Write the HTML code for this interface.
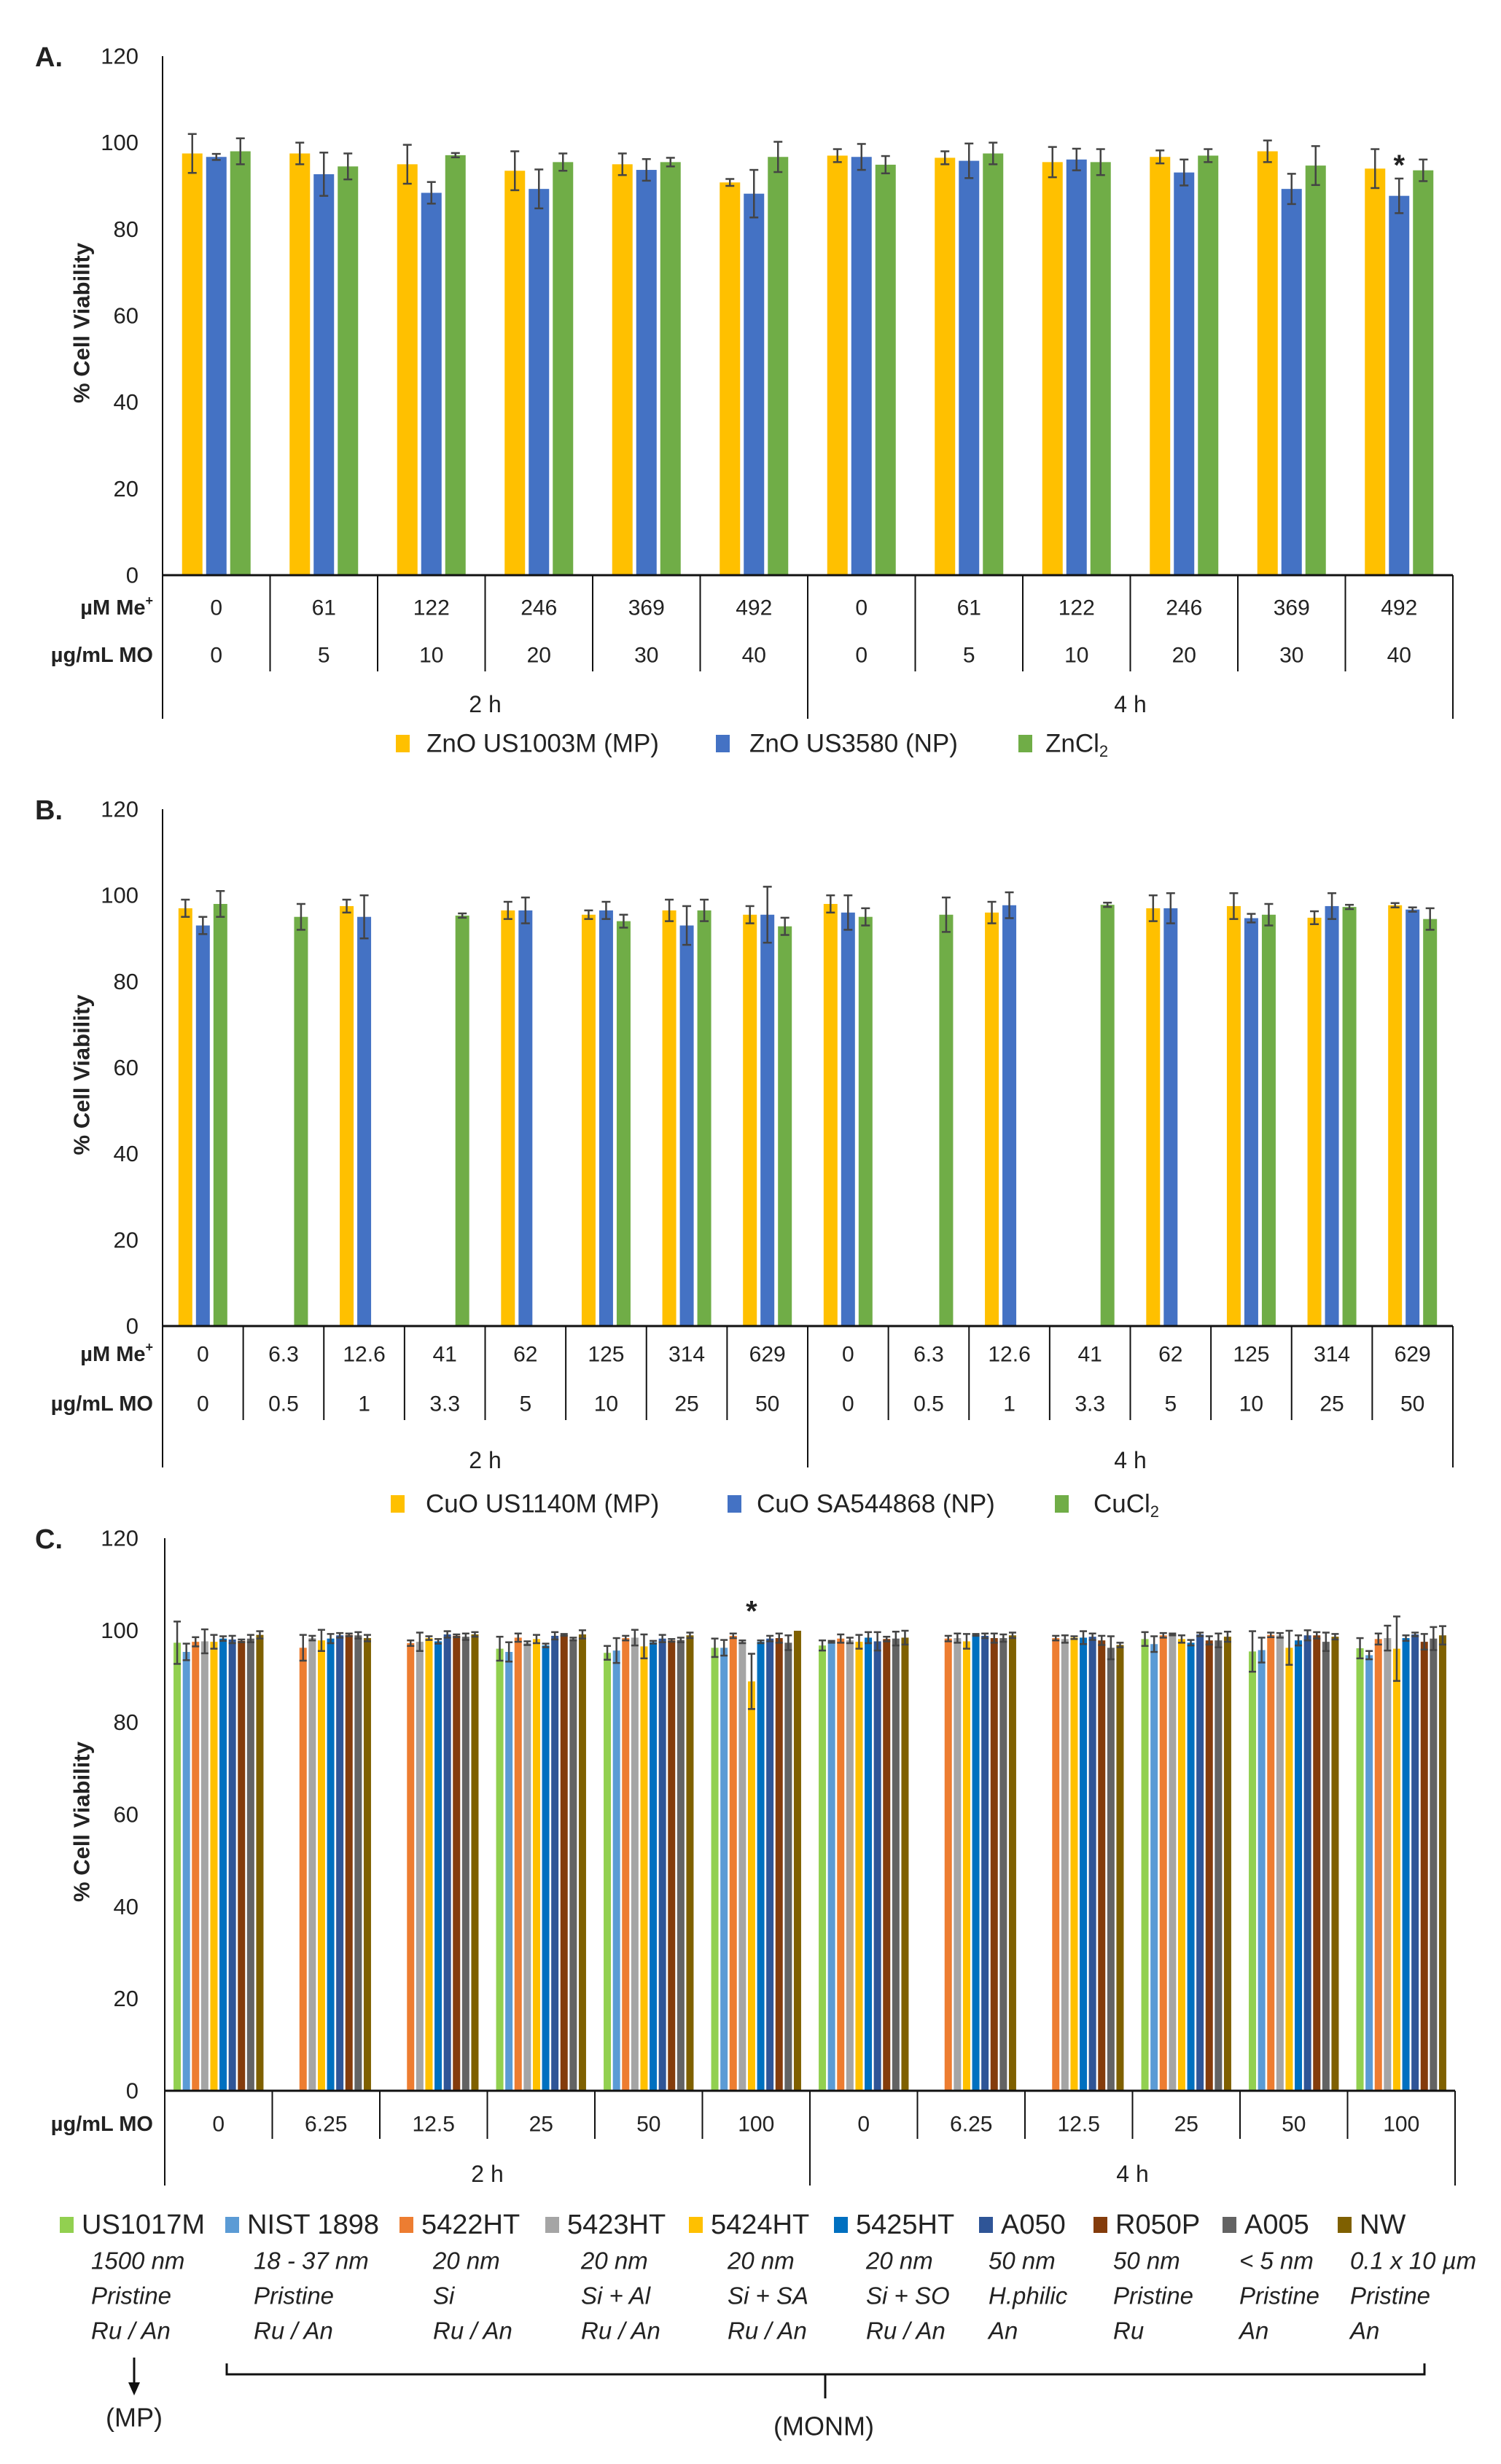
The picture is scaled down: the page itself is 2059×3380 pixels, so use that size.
<!DOCTYPE html>
<html><head><meta charset="utf-8">
<style>
html,body{margin:0;padding:0;background:#fff;}
svg{display:block;}
text{font-family:"Liberation Sans Narrow","Liberation Sans",sans-serif;fill:#222;}
</style></head>
<body>
<svg id="fig" width="2059" height="3380" viewBox="0 0 2059 3380" xmlns="http://www.w3.org/2000/svg"></svg>
<script>
// ---------- Chart A data ----------
const aMeConc = ["0","61","122","246","369","492","0","61","122","246","369","492"];
const aMoConc = ["0","5","10","20","30","40","0","5","10","20","30","40"];
const aSeriesNames = ["ZnO US1003M (MP)","ZnO US3580 (NP)","ZnCl"];
const aYellow = [97.5,97.5,95,93.5,95,90.8,97,96.5,95.5,96.7,98,94];
const aYellowErr = [4.5,2.5,4.5,4.5,2.5,0.8,1.5,1.5,3.5,1.5,2.5,4.5];
const aBlue = [96.7,92.7,88.4,89.3,93.7,88.2,96.7,95.8,96.1,93.1,89.3,87.7];
const aBlueErr = [0.7,5,2.5,4.5,2.5,5.5,3,4,2.5,3,3.5,4];
const aGreen = [98,94.5,97.1,95.5,95.5,96.7,94.9,97.5,95.5,97,94.7,93.6];
const aGreenErr = [3,3,0.5,2,1,3.5,2,2.5,3,1.5,4.5,2.5];

// ---------- Chart B data ----------
const bMeConc = ["0","6.3","12.6","41","62","125","314","629","0","6.3","12.6","41","62","125","314","629"];
const bMoConc = ["0","0.5","1","3.3","5","10","25","50","0","0.5","1","3.3","5","10","25","50"];
const bSeriesNames = ["CuO US1140M (MP)","CuO SA544868 (NP)","CuCl"];
const bYellow = [97,null,97.5,null,96.5,95.5,96.5,95.5,98,null,96,null,97,97.5,94.8,97.7];
const bYellowErr = [2,0,1.5,0,2,1,2.5,2,2,0,2.5,0,3,3,1.5,0.5];
const bBlue = [93,null,95,null,96.5,96.5,93,95.5,96,null,97.7,null,97,94.7,97.5,96.7];
const bBlueErr = [2,0,5,0,3,2,4.5,6.5,4,0,3,0,3.5,1,3,0.5];
const bGreen = [98,95,null,95.3,null,94,96.5,92.8,95,95.5,null,97.8,null,95.5,97.3,94.5];
const bGreenErr = [3,3,0,0.5,0,1.5,2.5,2,2,4,0,0.5,0,2.5,0.5,2.5];

// ---------- Chart C data ----------
const cMoConc = ["0","6.25","12.5","25","50","100","0","6.25","12.5","25","50","100"];
const cNames = ["US1017M","NIST 1898","5422HT","5423HT","5424HT","5425HT","A050","R050P","A005","NW"];
const cSizes = ["1500 nm","18 - 37 nm","20 nm","20 nm","20 nm","20 nm","50 nm","50 nm","< 5 nm","0.1 x 10 µm"];
const cCoat = ["Pristine","Pristine","Si","Si + Al","Si + SA","Si + SO","H.philic","Pristine","Pristine","Pristine"];
const cPhase = ["Ru / An","Ru / An","Ru / An","Ru / An","Ru / An","Ru / An","An","Ru","An","An"];
const cUS1017M = [97.3,null,null,96,95.1,96.2,96.7,null,null,98.1,95.4,96.1];
const cUS1017MErr = [4.6,0,0,2.6,1.5,2,1.1,0,0,1.5,4.4,2.2];
const cNIST = [95.3,null,null,95.3,95.6,96.2,97.5,null,null,97,95.7,94.6];
const cNISTErr = [1.8,0,0,2.1,2.7,1.7,0.2,0,0,1.7,2.7,0.9];
const c5422 = [97.5,96.2,97.2,98.4,98.3,98.8,98.2,98.2,98.3,98.9,99,98.1];
const c5422Err = [1,2.8,0.6,0.9,0.5,0.5,0.9,0.6,0.5,0.5,0.5,1.2];
const c5423 = [97.6,98.3,97.5,97.2,98.4,97.5,97.8,98.3,98.1,99.1,98.9,98.3];
const c5423Err = [2.6,0.5,2,0.4,1.7,0.3,0.6,1,0.8,0.2,0.5,2.7];
const c5424 = [97.5,97.8,98.3,98.1,96.5,88.9,97.5,97.6,98.4,98.1,96.2,96];
const c5424Err = [1.5,2.3,0.4,0.9,2.6,6,1.5,1.6,0.3,0.8,3.7,7];
const c5425 = [98.2,98.2,97.6,96.7,97.4,97.5,98.4,99,98.4,97.3,97.8,98.3];
const c5425Err = [0.5,1,0.5,0.4,0.3,0.3,1.2,0.2,1.4,0.6,1.1,0.6];
const cA050 = [98,98.9,99.1,98.8,98.2,98.2,97.6,98.8,98.6,99.1,98.9,99.1];
const cA050Err = [0.8,0.5,0.7,0.8,0.8,0.6,2,0.5,0.7,0.4,1.1,0.4];
const cR050P = [97.7,99,98.8,99,97.8,98.3,98.1,98.3,97.8,97.8,98.9,97.5];
const cR050PErr = [0.3,0.3,0.3,0.2,0.3,1,0.5,1,1,0.9,0.7,1.7];
const cA005 = [98.2,98.9,98.6,98.1,97.9,97.3,98.2,98.3,96.2,97.8,97.5,98.2];
const cA005Err = [0.8,0.7,0.7,0.3,0.5,1.6,1.5,0.8,2.5,1.5,2,2.5];
const cNW = [99,98.3,99.1,99.1,98.9,99.9,98.4,98.9,96.8,98.6,98.6,98.9];
const cNWErr = [0.8,0.7,0.5,0.9,0.6,0,1.5,0.6,0.5,1.1,0.6,2];

const yTicks = [0,20,40,60,80,100,120];

const NS = "http://www.w3.org/2000/svg";
const fig = document.getElementById('fig');
function mk(tag, attrs, parent, txt){
  const e = document.createElementNS(NS, tag);
  for (const k in attrs) e.setAttribute(k, attrs[k]);
  if (txt !== undefined) e.textContent = txt;
  (parent || fig).appendChild(e);
  return e;
}

function drawChart(cfg){
  const g = mk('g', {});
  
  
  const x0 = cfg.x0, x1 = cfg.x1, yB = cfg.yBottom, yT = cfg.yTop;
  const yScale = v => yB - (v / 120) * (yB - yT);
  const n = cfg.cats;
  const cw = (x1 - x0) / n;
  const xCenter = i => x0 + cw * (i + 0.5);
  // panel label
  const pl = mk('text', {x: cfg.labelX, y: yT + 2, 'font-size': 38, 'font-weight': 'bold', 'dominant-baseline': 'central', 'font-family': '"Liberation Sans",sans-serif'}, g, cfg.label);
  
  
  // y ticks
  yTicks.forEach(t => {
    const tl = mk('text', {x: 190, y: yScale(t), 'font-size': 31, 'text-anchor': 'end', 'dominant-baseline': 'central'}, g, String(t));
    
    
  });
  // y title
  const yc = (yB + yT) / 2 + 10;
  const yt = mk('text', {x: 112, y: yc, 'font-size': 31, 'font-weight': 'bold', 'text-anchor': 'middle', 'dominant-baseline': 'central', transform: `rotate(-90 112 ${yc})`, 'font-family': '"Liberation Sans",sans-serif'}, g, '% Cell Viability');
  
  
  // bars
  const ns = cfg.series.length;
  cfg.series.forEach((s, si) => {
    s.values.forEach((v, i) => {
      if (v === null) return;
      const bx = xCenter(i) + (si - (ns - 1) / 2) * cfg.step - cfg.bw / 2;
      const r = mk('rect', {x: bx, y: yScale(v), width: cfg.bw, height: yB - yScale(v), fill: s.color}, g);
      
      
      const e = s.err[i];
      if (e > 0) {
        const cx = bx + cfg.bw / 2;
        const eg = mk('g', {stroke: '#444', 'stroke-width': 2.5}, g);
        
        
        mk('line', {x1: cx, x2: cx, y1: yScale(v - e), y2: yScale(v + e)}, eg);
        mk('line', {x1: cx - cfg.cap, x2: cx + cfg.cap, y1: yScale(v - e), y2: yScale(v - e)}, eg);
        mk('line', {x1: cx - cfg.cap, x2: cx + cfg.cap, y1: yScale(v + e), y2: yScale(v + e)}, eg);
      }
    });
  });
  // axes
  const ya = mk('line', {x1: x0, x2: x0, y1: yT, y2: cfg.groupBottom, stroke: '#111', 'stroke-width': 2}, g);
  
  
  const xa = mk('line', {x1: x0, x2: x1, y1: yB, y2: yB, stroke: '#111', 'stroke-width': 3}, g);
  
  
  // category separators
  for (let i = 1; i < n; i++) {
    const xx = x0 + cw * i;
    const bottom = (i === n / 2) ? cfg.groupBottom : cfg.tableBottom;
    mk('line', {x1: xx, x2: xx, y1: yB, y2: bottom, stroke: '#111', 'stroke-width': 2}, g);
  }
  mk('line', {x1: x1, x2: x1, y1: yB, y2: cfg.groupBottom, stroke: '#111', 'stroke-width': 2}, g);
  // rows
  cfg.rows.forEach(row => {
    const rl = mk('text', {x: 210, y: row.y, 'font-size': 29, 'font-weight': 'bold', 'text-anchor': 'end', 'dominant-baseline': 'central'}, g);
    
    
    rl.textContent = row.label;
    if (row.sup) { mk('tspan', {'font-size': 18, dy: -10}, rl, row.sup); }
    row.labels.forEach((t, i) => {
      const tl = mk('text', {x: xCenter(i), y: row.y, 'font-size': 30, 'text-anchor': 'middle', 'dominant-baseline': 'central'}, g, t);
      
      
    });
  });
  // groups
  ['2 h', '4 h'].forEach((t, gi) => {
    const gl = mk('text', {x: x0 + (x1 - x0) * (gi * 0.5 + 0.25), y: cfg.groupY, 'font-size': 32, 'text-anchor': 'middle', 'dominant-baseline': 'central'}, g, t);
    
    
  });
  // star
  if (cfg.star) {
    const s = cfg.series[cfg.star.series];
    const i = cfg.star.cat;
    const sx = xCenter(i) + (cfg.star.series - (ns - 1) / 2) * cfg.step;
    const st = mk('text', {x: sx, y: yScale(s.values[i] + s.err[i]) - cfg.star.off, 'font-size': 40, 'font-weight': 'bold', 'text-anchor': 'middle', 'dominant-baseline': 'central', 'font-family': '"Liberation Sans",sans-serif'}, g, '*');
    
    
  }
}

function simpleLegend(items, y){
  const lg = mk('g', {});
  
  
  items.forEach(it => {
    const ig = mk('g', {}, lg);
    
    
    mk('rect', {x: it.sx, y: y - 12, width: 19, height: 24, fill: it.color}, ig);
    const t = mk('text', {x: it.tx, y: y, 'font-size': 35, 'dominant-baseline': 'central'}, ig, it.text);
    if (it.sub) mk('tspan', {'font-size': 22, dy: 10}, t, it.sub);
  });
}

// Chart A
drawChart({
  name: 'chart-a', label: 'A.', labelX: 48, x0: 223, x1: 1993, yBottom: 789, yTop: 77, cats: 12,
  bw: 28, step: 33, cap: 6, tableBottom: 921, groupBottom: 986, groupY: 966,
  series: [
    {key: 'zno-mp', color: '#FFC000', values: aYellow, err: aYellowErr},
    {key: 'zno-np', color: '#4472C4', values: aBlue, err: aBlueErr},
    {key: 'zncl2', color: '#70AD47', values: aGreen, err: aGreenErr}
  ],
  rows: [{label: 'µM Me', sup: '+', y: 834, labels: aMeConc}, {label: 'µg/mL MO', y: 899, labels: aMoConc}],
  star: {series: 1, cat: 11, off: 18}
});
simpleLegend([
  {sx: 543, tx: 585, color: '#FFC000', text: aSeriesNames[0]},
  {sx: 982, tx: 1028, color: '#4472C4', text: aSeriesNames[1]},
  {sx: 1397, tx: 1434, color: '#70AD47', text: aSeriesNames[2], sub: '2'}
], 1020);

// Chart B
drawChart({
  name: 'chart-b', label: 'B.', labelX: 48, x0: 223, x1: 1993, yBottom: 1819, yTop: 1110, cats: 16,
  bw: 19, step: 24, cap: 6, tableBottom: 1948, groupBottom: 2013, groupY: 2003,
  series: [
    {key: 'cuo-mp', color: '#FFC000', values: bYellow, err: bYellowErr},
    {key: 'cuo-np', color: '#4472C4', values: bBlue, err: bBlueErr},
    {key: 'cucl2', color: '#70AD47', values: bGreen, err: bGreenErr}
  ],
  rows: [{label: 'µM Me', sup: '+', y: 1858, labels: bMeConc}, {label: 'µg/mL MO', y: 1926, labels: bMoConc}]
});
simpleLegend([
  {sx: 536, tx: 584, color: '#FFC000', text: bSeriesNames[0]},
  {sx: 998, tx: 1038, color: '#4472C4', text: bSeriesNames[1]},
  {sx: 1447, tx: 1500, color: '#70AD47', text: bSeriesNames[2], sub: '2'}
], 2063);

// Chart C
const cColors = ['#92D050','#5B9BD5','#ED7D31','#A5A5A5','#FFC000','#0070C0','#2F5597','#843C0C','#636363','#7F6000'];
const cVals = [cUS1017M,cNIST,c5422,c5423,c5424,c5425,cA050,cR050P,cA005,cNW];
const cErrs = [cUS1017MErr,cNISTErr,c5422Err,c5423Err,c5424Err,c5425Err,cA050Err,cR050PErr,cA005Err,cNWErr];
drawChart({
  name: 'chart-c', label: 'C.', labelX: 48, x0: 226, x1: 1996, yBottom: 2868, yTop: 2110, cats: 12,
  bw: 10, step: 12.6, cap: 5, tableBottom: 2934, groupBottom: 2998, groupY: 2982,
  series: cVals.map((v, i) => ({key: 'c' + i, color: cColors[i], values: v, err: cErrs[i]})),
  rows: [{label: 'µg/mL MO', y: 2914, labels: cMoConc}],
  star: {series: 4, cat: 5, off: 58}
});

// Chart C legend
const legC = mk('g', {});


const cSqX = [92,319,558,758,955,1154,1353,1510,1687,1845];
const cSubX = [125,348,594,797,998,1188,1356,1527,1700,1852];
cNames.forEach((nm, i) => {
  const ig = mk('g', {}, legC);
  
  
  mk('rect', {x: cSqX[i] - 10, y: 3041, width: 19, height: 22, fill: cColors[i]}, ig);
  mk('text', {x: cSqX[i] + 20, y: 3052, 'font-size': 38, 'dominant-baseline': 'central'}, ig, nm);
  [cSizes[i], cCoat[i], cPhase[i]].forEach((t, k) => {
    mk('text', {x: cSubX[i], y: 3101 + k * 48, 'font-size': 33, 'font-style': 'italic', 'dominant-baseline': 'central'}, ig, t);
  });
});
// MP arrow and MONM bracket
const ann = mk('g', {stroke: '#111', 'stroke-width': 3, fill: 'none'});


mk('line', {x1: 184, x2: 184, y1: 3234, y2: 3270}, ann);
mk('path', {d: 'M176 3268 L184 3286 L192 3268 Z', fill: '#111', stroke: 'none'}, ann);
mk('path', {d: 'M311 3242 L311 3257 L1954 3257 L1954 3242'}, ann);
mk('line', {x1: 1132, x2: 1132, y1: 3257, y2: 3290}, ann);
const mp = mk('text', {x: 184, y: 3316, 'font-size': 36, 'text-anchor': 'middle', 'dominant-baseline': 'central'}, fig, '(MP)');


const monm = mk('text', {x: 1130, y: 3328, 'font-size': 36, 'text-anchor': 'middle', 'dominant-baseline': 'central'}, fig, '(MONM)');


</script>
</body></html>
